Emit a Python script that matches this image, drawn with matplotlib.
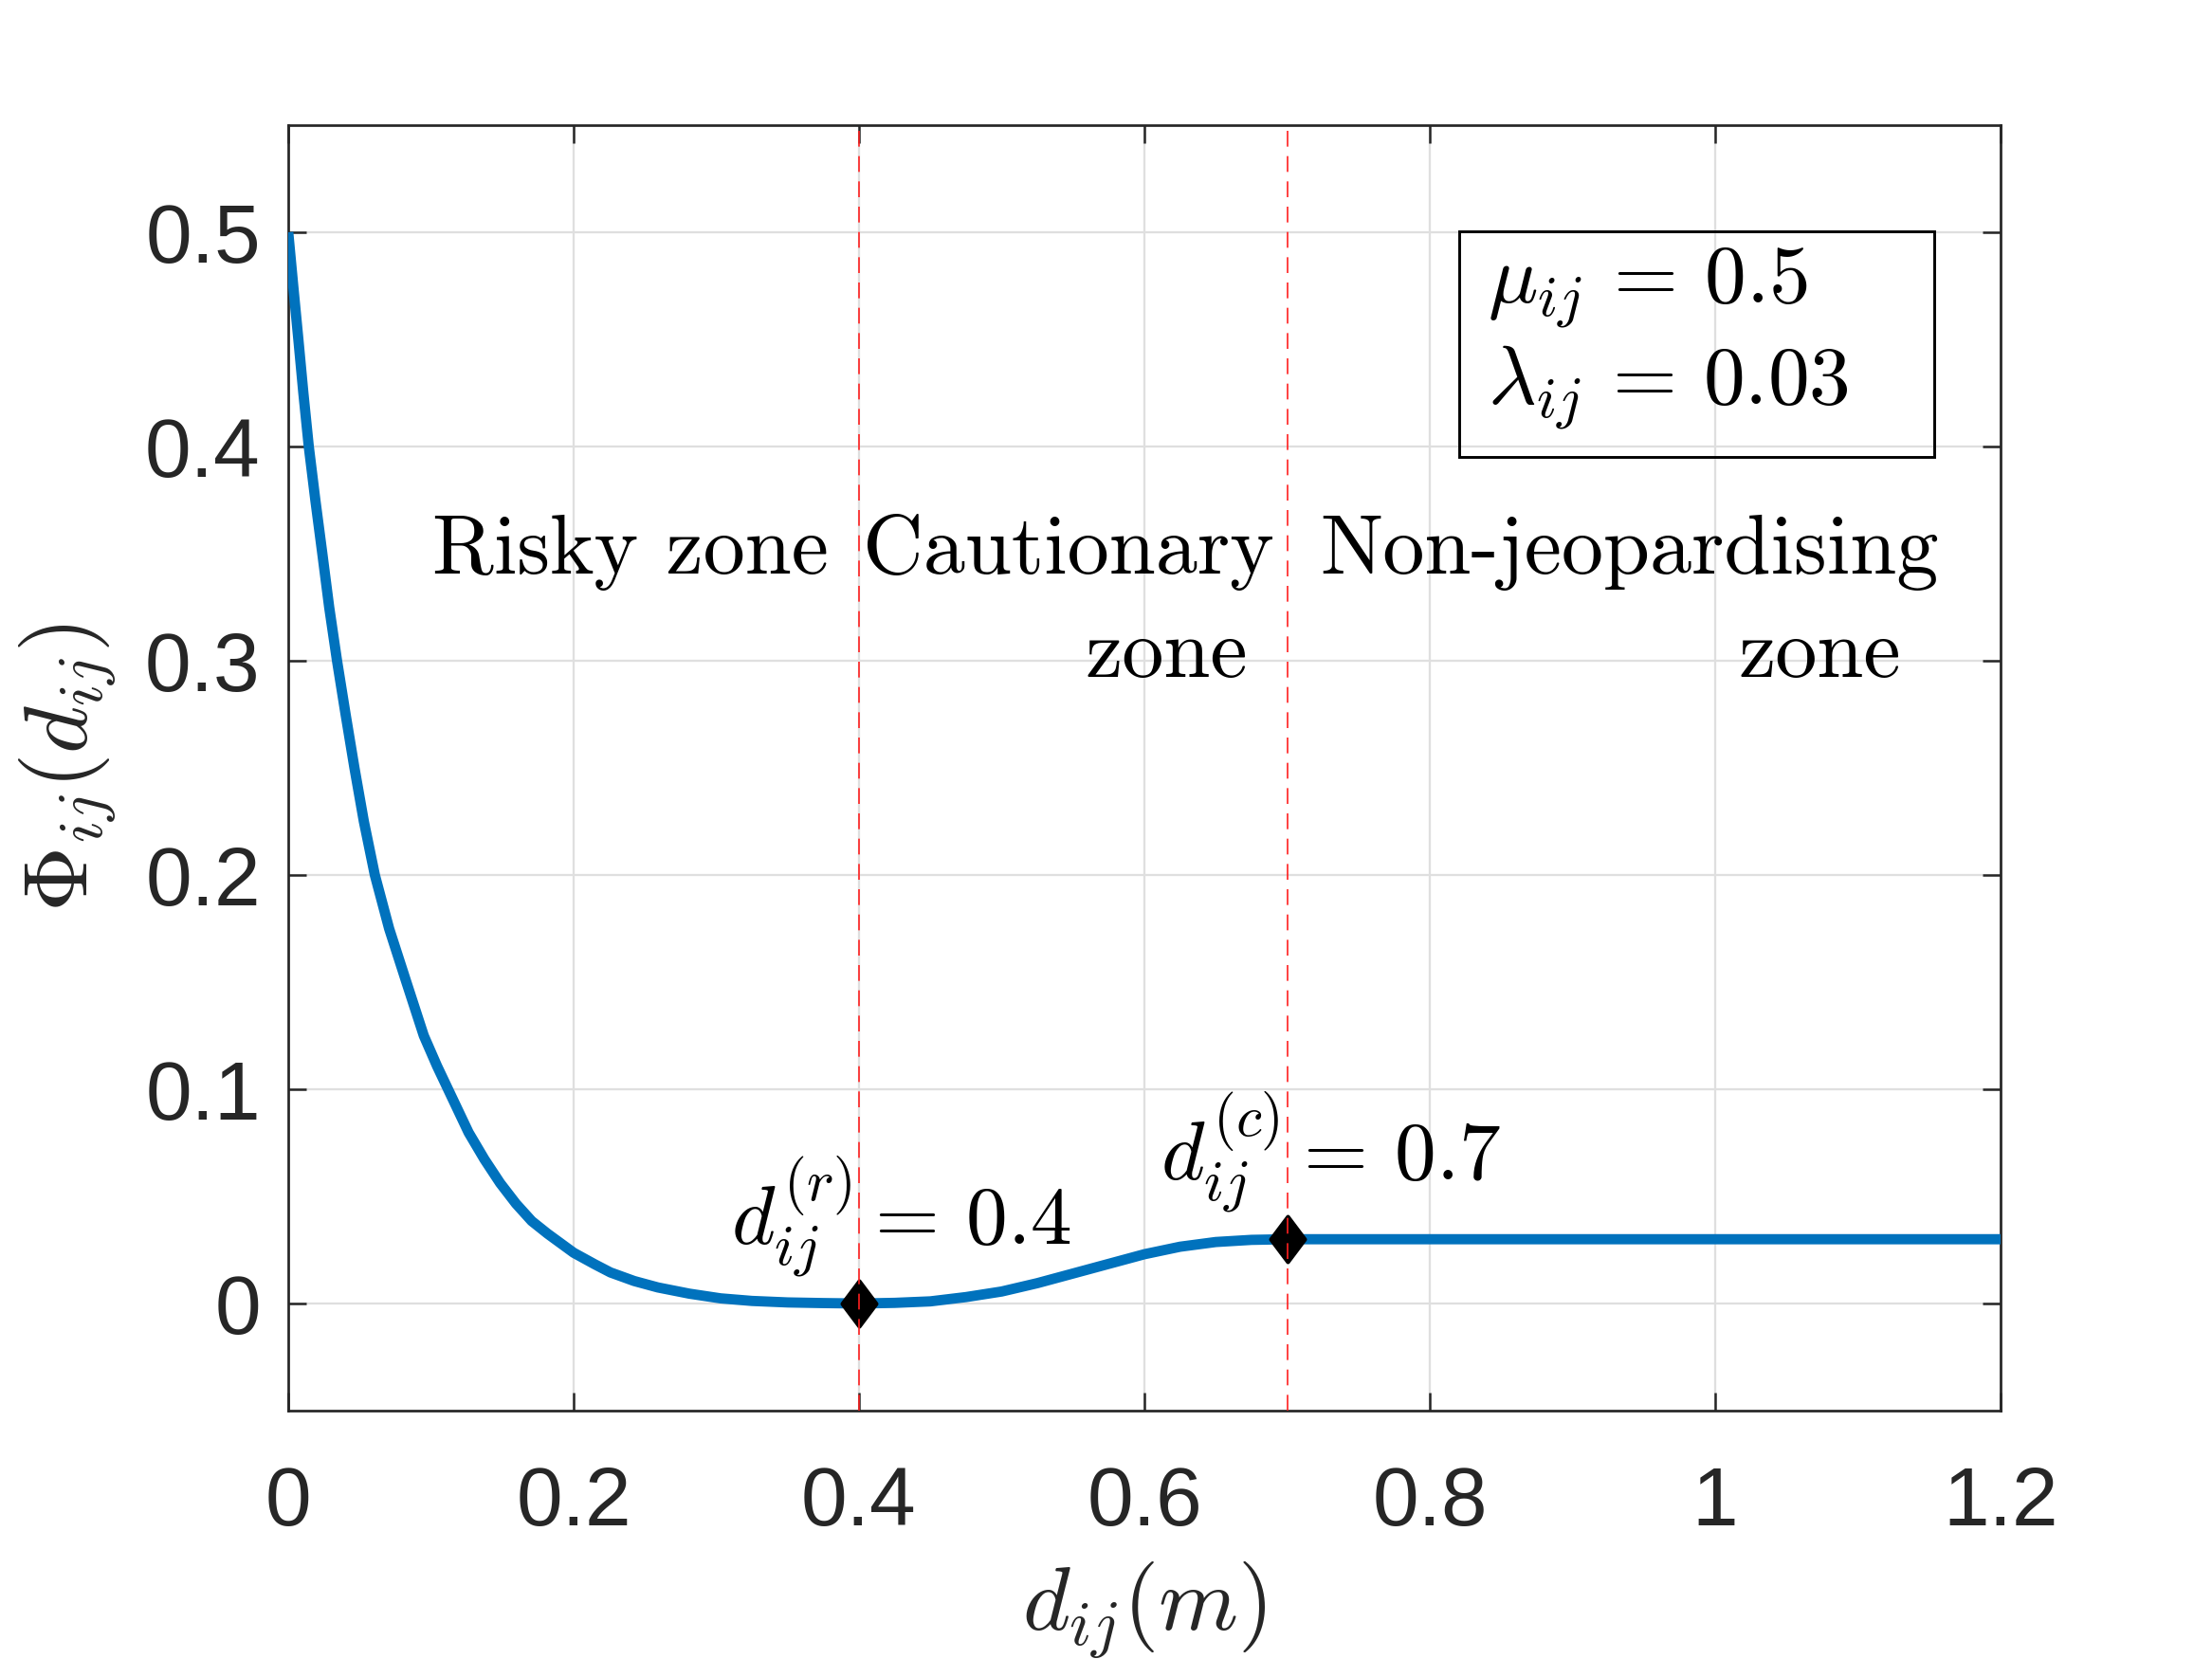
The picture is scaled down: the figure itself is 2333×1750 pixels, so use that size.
import numpy as np
import matplotlib
matplotlib.use("Agg")
import matplotlib.pyplot as plt
from matplotlib.path import Path
from matplotlib.patches import Rectangle

plt.rcParams['mathtext.fontset'] = 'cm'
plt.rcParams['font.family'] = ['Liberation Sans', 'DejaVu Sans']

# ---- data ----
d_vals = [0.0, 0.0035, 0.0071, 0.0106, 0.0144, 0.019, 0.0239, 0.0287, 0.0342,
          0.0402, 0.0464, 0.053, 0.0607, 0.0707, 0.0828, 0.095, 0.1043, 0.112,
          0.1264, 0.1375, 0.1485, 0.1596, 0.1706, 0.1817, 0.2, 0.2148, 0.2258,
          0.2424, 0.259, 0.281, 0.303, 0.325, 0.35, 0.375, 0.4,
          0.425, 0.45, 0.475, 0.5, 0.525, 0.55, 0.575, 0.6, 0.625, 0.65, 0.675,
          0.7, 1.2]
phi_vals = [0.5, 0.475, 0.45, 0.425, 0.4, 0.375, 0.35, 0.325, 0.3,
            0.275, 0.25, 0.225, 0.2, 0.175, 0.15, 0.125, 0.1108, 0.1,
            0.0798, 0.0673, 0.0562, 0.0466, 0.0385, 0.0326, 0.0237, 0.0183, 0.0145,
            0.0105, 0.0075, 0.0046, 0.0024, 0.0012, 0.0005, 0.0002, 0.0,
            0.0003, 0.001, 0.003, 0.0056, 0.0095, 0.014, 0.0185, 0.023, 0.0265, 0.0287, 0.0297,
            0.03, 0.03]
marker_d = [0.4, 0.7]
marker_phi = [0.0, 0.03]
x_ticks = [0, 0.2, 0.4, 0.6, 0.8, 1.0, 1.2]
x_tick_labels = ['0', '0.2', '0.4', '0.6', '0.8', '1', '1.2']
y_ticks = [0, 0.1, 0.2, 0.3, 0.4, 0.5]
y_tick_labels = ['0', '0.1', '0.2', '0.3', '0.4', '0.5']
zone_texts = ['Risky zone', 'Cautionary', 'zone', 'Non-jeopardising', 'zone']
param_texts = [r'$\mu_{ij}\,=\,0.5$', r'$\lambda_{ij}\,=\,0.03$']
point_texts = [r'$d_{ij}^{(r)}=\,0.4$', r'$d_{ij}^{(c)}=\,0.7$']

W, H = 2333, 1750
fig = plt.figure(figsize=(W / 300, H / 300), dpi=300)
ax = fig.add_axes([304 / W, 1 - 1488 / H, 1806 / W, 1356 / H])

ax.set_xlim(0, 1.2)
ax.set_ylim(-0.05, 0.55)

ax.grid(True, color='#dfdfdf', linewidth=0.55)
ax.set_axisbelow(True)

ax.plot(d_vals, phi_vals, color='#0072BD', linewidth=2.6, zorder=3,
        solid_capstyle='butt', solid_joinstyle='round')

diamond = Path([(0, 1), (0.75, 0), (0, -1), (-0.75, 0), (0, 1)],
               [Path.MOVETO, Path.LINETO, Path.LINETO, Path.LINETO, Path.CLOSEPOLY])
ax.plot(marker_d, marker_phi, linestyle='none', marker=diamond, markersize=11.5,
        color='black', zorder=4)

for xv in marker_d:
    ax.axvline(xv, color='#ff2020', linewidth=0.4, dashes=(10, 6), zorder=5)

ax.set_xticks(x_ticks)
ax.set_xticklabels(x_tick_labels)
ax.set_yticks(y_ticks)
ax.set_yticklabels(y_tick_labels)
ax.tick_params(direction='in', length=4.5, width=0.6, colors='#262626',
               labelsize=21, top=True, right=True, pad=14)
ax.tick_params(axis='y', pad=7)
for sp in ax.spines.values():
    sp.set_color('#262626')
    sp.set_linewidth(0.65)

ax.set_xlabel(r'$d_{ij}(m)$', fontsize=23, color='#262626')
ax.set_ylabel(r'$\Phi_{ij}(d_{ij})$', fontsize=23, color='#262626')
ax.xaxis.set_label_coords(0.5, -0.116)
ax.yaxis.set_label_coords(-0.099, 0.5)

# zone labels
zone_pos = [(0.101, 0.3408), (0.4029, 0.3408), (0.5588, 0.2926),
            (0.7229, 0.3408), (1.0166, 0.2926)]
for t, (xv, yv) in zip(zone_texts, zone_pos):
    ax.text(xv, yv, t, family='cmr10', fontsize=21.2, ha='left', va='baseline',
            color='black')

# point annotations
pt_pos = [(0.3103, 0.0276), (0.6116, 0.0577)]
for t, (xv, yv) in zip(point_texts, pt_pos):
    ax.text(xv, yv, t, fontsize=21, ha='left', va='baseline', color='black')

# parameter box
ax.add_patch(Rectangle((0.6838, 0.7419), 0.961 - 0.6838, 0.9172 - 0.7419,
                       transform=ax.transAxes, fill=False, edgecolor='black',
                       linewidth=0.7, zorder=6))
ax.text(0.7004, 0.8614, param_texts[0], transform=ax.transAxes, fontsize=21,
        ha='left', va='baseline')
ax.text(0.7004, 0.7827, param_texts[1], transform=ax.transAxes, fontsize=21,
        ha='left', va='baseline')

fig.savefig('out.png', dpi=300)
